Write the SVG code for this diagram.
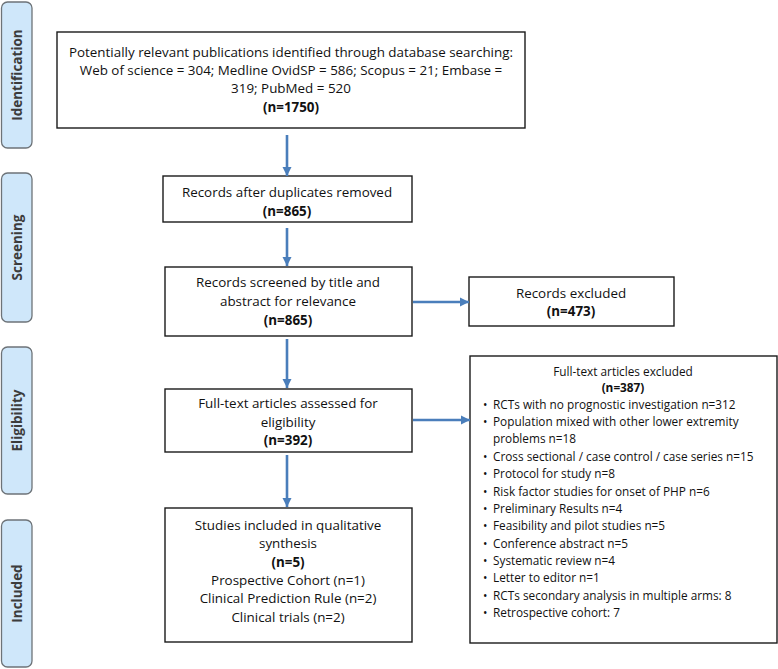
<svg xmlns="http://www.w3.org/2000/svg" width="778" height="669" viewBox="0 0 778 669">
<defs>
<marker id="ah" viewBox="0 0 10 10" refX="10" refY="5" markerWidth="3.6" markerHeight="3.6" orient="auto" markerUnits="strokeWidth">
<path d="M0,0 L10,5 L0,10 z" fill="#4a7ebb"/>
</marker>
</defs>
<style>
.side{fill:#cfe7fa;stroke:#6d7378;stroke-width:1.3}
.sl{font-family:"Open Sans","Liberation Sans",sans-serif;font-weight:bold;font-size:13.5px;fill:#3c3c3c;text-anchor:middle}
.box{fill:#fff;stroke:#1a1a1a;stroke-width:1.4}
.t{font-family:"Open Sans","Liberation Sans",sans-serif;font-size:13.4px;fill:#111;text-anchor:middle}
.b{font-weight:bold}
.s{font-family:"Open Sans","Liberation Sans",sans-serif;font-size:11.8px;fill:#111}
.m{text-anchor:middle}
.c{stroke:#4a7ebb;stroke-width:2.6;fill:none;marker-end:url(#ah)}
</style>
<rect width="778" height="669" fill="#fff"/>
<g id="side-identification"><rect class="side" x="1.5" y="2" width="30.5" height="146" rx="6"/><text class="sl" transform="translate(22,75) rotate(-90)">Identification</text></g>
<g id="side-screening"><rect class="side" x="1.5" y="173" width="30.5" height="149" rx="6"/><text class="sl" transform="translate(22,247.5) rotate(-90)">Screening</text></g>
<g id="side-eligibility"><rect class="side" x="1.5" y="347" width="30.5" height="147" rx="6"/><text class="sl" transform="translate(22,420.5) rotate(-90)">Eligibility</text></g>
<g id="side-included"><rect class="side" x="1.5" y="520" width="30.5" height="147" rx="6"/><text class="sl" transform="translate(22,593.5) rotate(-90)">Included</text></g>

<g id="n1"><rect class="box" x="57" y="32" width="468" height="96"/>
<text class="t" x="291" y="57">Potentially relevant publications identified through database searching:</text>
<text class="t" x="291" y="75">Web of science = 304; Medline OvidSP = 586; Scopus = 21; Embase =</text>
<text class="t" x="291" y="93">319; PubMed = 520</text>
<text class="t b" x="291" y="112">(n=1750)</text></g>

<g id="n2"><rect class="box" x="163" y="176" width="249" height="46"/>
<text class="t" x="287" y="197">Records after duplicates removed</text>
<text class="t b" x="287" y="216">(n=865)</text></g>

<g id="n3"><rect class="box" x="165" y="267" width="247" height="69"/>
<text class="t" x="288" y="287">Records screened by title and</text>
<text class="t" x="288" y="306">abstract for relevance</text>
<text class="t b" x="288" y="325">(n=865)</text></g>

<g id="n4"><rect class="box" x="469" y="277" width="205" height="49"/>
<text class="t" x="571" y="298">Records excluded</text>
<text class="t b" x="571" y="316">(n=473)</text></g>

<g id="n5"><rect class="box" x="165" y="389" width="247" height="63"/>
<text class="t" x="288" y="408">Full-text articles assessed for</text>
<text class="t" x="288" y="427">eligibility</text>
<text class="t b" x="288" y="445">(n=392)</text></g>

<g id="n6"><rect class="box" x="470" y="356" width="307" height="287"/>
<text class="s m" x="623" y="376">Full-text articles excluded</text>
<text class="s m b" x="623" y="392">(n=387)</text>
<g class="s">
<text x="483" y="409">•</text><text x="493" y="409">RCTs with no prognostic investigation n=312</text>
<text x="483" y="426">•</text><text x="493" y="426">Population mixed with other lower extremity</text>
<text x="493" y="443">problems n=18</text>
<text x="483" y="461">•</text><text x="493" y="461">Cross sectional / case control / case series n=15</text>
<text x="483" y="478">•</text><text x="493" y="478">Protocol for study n=8</text>
<text x="483" y="495.5">•</text><text x="493" y="495.5">Risk factor studies for onset of PHP n=6</text>
<text x="483" y="513">•</text><text x="493" y="513">Preliminary Results n=4</text>
<text x="483" y="530">•</text><text x="493" y="530">Feasibility and pilot studies n=5</text>
<text x="483" y="547.5">•</text><text x="493" y="547.5">Conference abstract n=5</text>
<text x="483" y="565">•</text><text x="493" y="565">Systematic review n=4</text>
<text x="483" y="582">•</text><text x="493" y="582">Letter to editor n=1</text>
<text x="483" y="599.5">•</text><text x="493" y="599.5">RCTs secondary analysis in multiple arms: 8</text>
<text x="483" y="617">•</text><text x="493" y="617">Retrospective cohort: 7</text>
</g></g>

<g id="n7"><rect class="box" x="165" y="508" width="247" height="134"/>
<text class="t" x="288" y="530">Studies included in qualitative</text>
<text class="t" x="288" y="548">synthesis</text>
<text class="t b" x="288" y="567">(n=5)</text>
<text class="t" x="288" y="585">Prospective Cohort (n=1)</text>
<text class="t" x="288" y="603">Clinical Prediction Rule (n=2)</text>
<text class="t" x="288" y="622">Clinical trials (n=2)</text></g>

<g id="connectors">
<line class="c" x1="287" y1="135" x2="287" y2="176"/>
<line class="c" x1="287" y1="228" x2="287" y2="266"/>
<line class="c" x1="413" y1="302" x2="469" y2="302"/>
<line class="c" x1="287" y1="339" x2="287" y2="388"/>
<line class="c" x1="413" y1="420" x2="470" y2="420"/>
<line class="c" x1="287" y1="455" x2="287" y2="507"/>
</g>
</svg>
